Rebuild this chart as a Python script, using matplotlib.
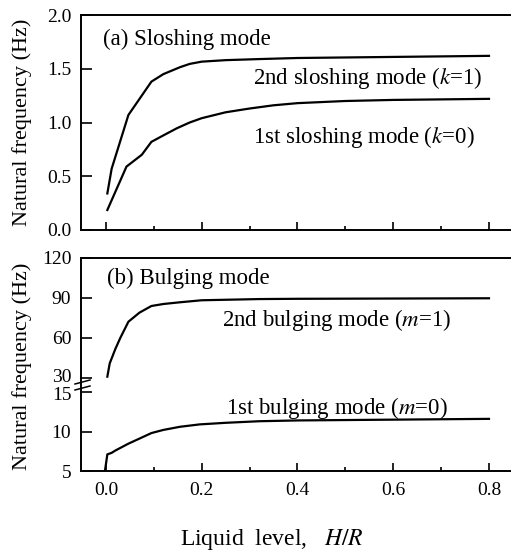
import matplotlib
matplotlib.use("Agg")
import matplotlib.pyplot as plt
from matplotlib.lines import Line2D
from matplotlib.ticker import MultipleLocator
from matplotlib.transforms import ScaledTranslation

plt.rcParams['font.family'] = ['Liberation Serif', 'DejaVu Serif']
plt.rcParams['mathtext.fontset'] = 'stix'

# liquid level H/R vs natural frequency
h_k1 = [0.003, 0.012, 0.047, 0.095, 0.12, 0.155, 0.175, 0.2, 0.25, 0.32, 0.4, 0.5, 0.6, 0.7, 0.8]
k1 = [0.34, 0.57, 1.07, 1.38, 1.45, 1.515, 1.545, 1.566, 1.58, 1.59, 1.60, 1.605, 1.61, 1.615, 1.62]
h_k0 = [0.003, 0.043, 0.075, 0.095, 0.12, 0.148, 0.175, 0.2, 0.25, 0.3, 0.35, 0.4, 0.5, 0.6, 0.7, 0.8]
k0 = [0.186, 0.59, 0.70, 0.82, 0.88, 0.946, 1.0, 1.04, 1.095, 1.13, 1.16, 1.18, 1.20, 1.21, 1.215, 1.22]

h_m1 = [0.003, 0.008, 0.02, 0.03, 0.047, 0.07, 0.095, 0.12, 0.155, 0.2, 0.32, 0.4, 0.6, 0.8]
m1 = [31, 41, 52, 60, 72.2, 79, 84, 85.5, 86.8, 88.3, 89.2, 89.4, 89.6, 89.8]
h_m0 = [-0.002, 0.003, 0.012, 0.02, 0.047, 0.07, 0.095, 0.12, 0.155, 0.196, 0.25, 0.32, 0.4, 0.6, 0.8]
m0 = [5.0, 7.1, 7.3, 7.6, 8.46, 9.1, 9.8, 10.2, 10.6, 10.9, 11.1, 11.3, 11.4, 11.5, 11.6]

W, H = 511, 551
fig = plt.figure(figsize=(W / 100, H / 100), dpi=100)

def frac(left, top, right, bottom):
    return [left / W, 1 - bottom / H, (right - left) / W, (bottom - top) / H]

ax_a = fig.add_axes(frac(81, 15, 511, 230))
ax_b = fig.add_axes(frac(81, 258, 511, 378))
ax_c = fig.add_axes(frac(81, 392, 511, 471))

xlim = (-0.052, 0.846)
lw = 1.6
fs = 16.5
for ax in (ax_a, ax_b, ax_c):
    ax.set_xlim(*xlim)
    ax.spines['right'].set_visible(False)
    for s in ax.spines.values():
        s.set_linewidth(1.4)
    ax.xaxis.set_major_locator(MultipleLocator(0.2))
    ax.xaxis.set_minor_locator(MultipleLocator(0.1))
    ax.tick_params(which='both', direction='in', labelsize=14, width=1.2)
    ax.tick_params(which='major', length=6, pad=8)
    ax.tick_params(which='minor', length=3)
    ax.tick_params(axis='y', which='both', pad=7, length=8)
    ax.tick_params(top=False, right=False)

# (a) sloshing
ax_a.plot(h_k1, k1, color='black', lw=lw)
ax_a.plot(h_k0, k0, color='black', lw=lw)
ax_a.set_ylim(0, 2.0)
ax_a.set_yticks([0.0, 0.5, 1.0, 1.5, 2.0])
ax_a.set_yticklabels(['0.0', '0.5', '1.0', '1.5', '2.0'])
ax_a.tick_params(axis='x', labelbottom=False)
ax_a.text(-0.006, 1.77, '(a) Sloshing mode', fontsize=fs, va='center')
ax_a.text(0.308, 1.414, '2nd sloshing mode ($k$=1)', fontsize=fs, va='center')
ax_a.text(0.308, 0.865, '1st sloshing mode ($k$=0)', fontsize=fs, va='center')

# (b) bulging, broken axis
ax_b.plot(h_m1, m1, color='black', lw=lw)
ax_b.set_ylim(30, 120)
ax_b.set_yticks([30, 60, 90, 120])
ax_b.spines['bottom'].set_visible(False)
ax_b.tick_params(axis='x', which='both', bottom=False, labelbottom=False)
ax_b.text(0.002, 105, '(b) Bulging mode', fontsize=fs, va='center')
ax_b.text(0.243, 73.5, '2nd bulging mode ($m$=1)', fontsize=fs, va='center')

ax_c.plot(h_m0, m0, color='black', lw=lw)
ax_c.set_ylim(5, 15)
ax_c.set_yticks([5, 10, 15])
ax_c.spines['top'].set_visible(False)
ax_c.set_xticks([0.0, 0.2, 0.4, 0.6, 0.8])
ax_c.set_xticklabels(['0.0', '0.2', '0.4', '0.6', '0.8'])
ax_c.text(0.251, 13.0, '1st bulging mode ($m$=0)', fontsize=fs, va='center')

# the 30 and 15 labels sit tight against each other at the break
fig.canvas.draw()
ax_b.get_yticklabels()[0].set_transform(
    ax_b.get_yticklabels()[0].get_transform() + ScaledTranslation(0, 3 / 100, fig.dpi_scale_trans))
ax_c.get_yticklabels()[-1].set_transform(
    ax_c.get_yticklabels()[-1].get_transform() + ScaledTranslation(0, -1 / 100, fig.dpi_scale_trans))

# spine across the gap and break marks
fig.add_artist(Line2D([81 / W, 81 / W], [1 - 378 / H, 1 - 392 / H], color='black', lw=1.4))
for yb in (382, 388):
    fig.add_artist(Line2D([75 / W, 90 / W], [1 - (yb + 2) / H, 1 - (yb - 2) / H],
                          color='black', lw=1.1))

fig.text(22 / W, 1 - 122 / H, 'Natural frequency (Hz)', rotation=90,
         fontsize=16, ha='center', va='center')
fig.text(22 / W, 1 - 366 / H, 'Natural frequency (Hz)', rotation=90,
         fontsize=16, ha='center', va='center')
fig.text(272 / W, 1 - 540 / H, 'Liquid  level,   $H/R$', fontsize=17,
         ha='center', va='center')

fig.savefig('out.png', dpi=100)
